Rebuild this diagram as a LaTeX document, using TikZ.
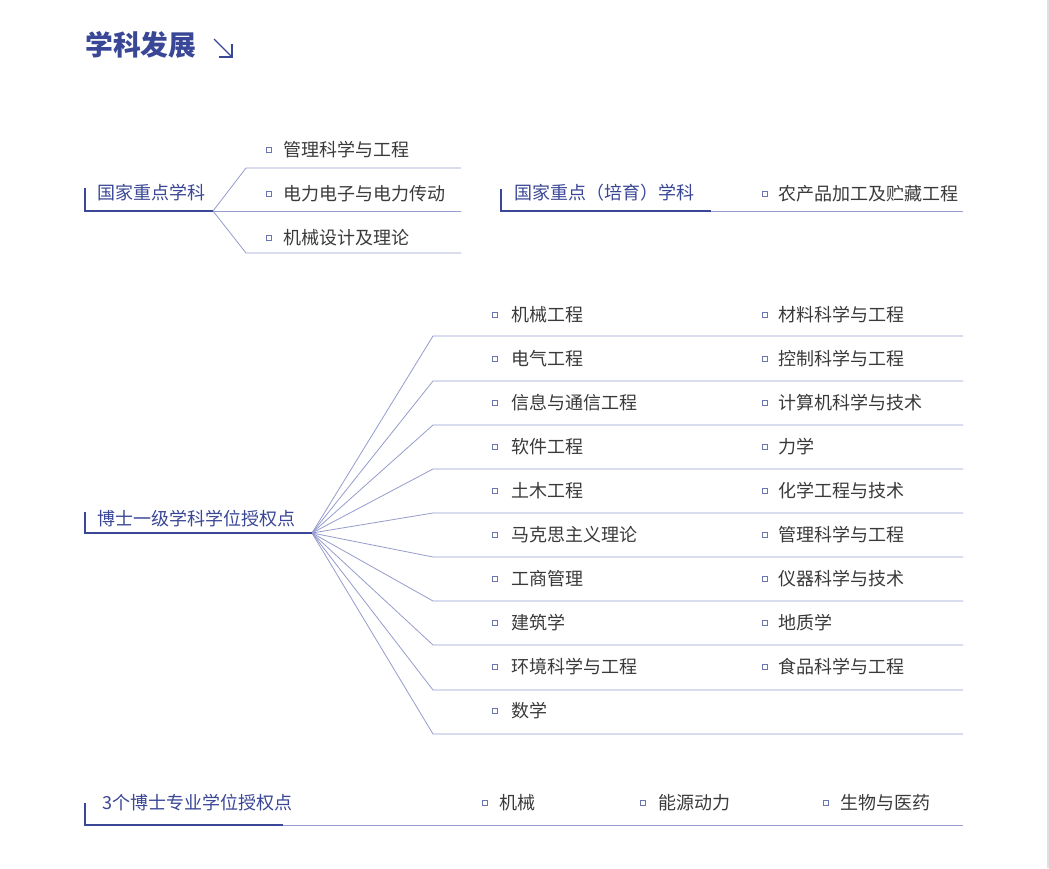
\documentclass[tikz,border=0pt]{standalone}
\usepackage{fontspec}
\newfontfamily\cjk{Noto Sans CJK SC}
\usetikzlibrary{positioning}
\definecolor{deepblue}{HTML}{3A4796}
\definecolor{paleblue}{HTML}{969CCD}
\definecolor{itemgray}{HTML}{3A3A3A}
\tikzset{
  title-t/.style={font=\cjk\bfseries\fontsize{27.8}{30}\selectfont,text=deepblue,anchor=west,inner sep=0pt},
  head-t/.style={font=\cjk\fontsize{18}{20}\selectfont,text=deepblue,anchor=west,inner sep=0pt},
  item-t/.style={font=\cjk\fontsize{18}{20}\selectfont,text=itemgray,anchor=west,inner sep=0pt},
  dot/.style={draw=deepblue!75,fill=white,rectangle,minimum size=5pt,inner sep=0pt,line width=0.7pt},
  rule-k/.style={draw=deepblue,line width=2pt},
  rule-l/.style={draw=paleblue,line width=0.8pt},
}

\begin{document}
\begin{tikzpicture}[x=1pt,y=-1pt]

  \useasboundingbox[fill=white] (0,0) rectangle (1049,868);
  \draw[black!12,line width=1.2pt] (1048,0) -- (1048,868);

  % TITLE
  \node[title-t] (title) at (85,45) {学科发展};
  \draw[deepblue,line width=1.3pt] (214,39) -- (232,57);
  \draw[deepblue,line width=1.3pt] (232,44) -- (232,57) -- (219,57);

  % BLOCK 1
  \node[head-t] (g1) at (97,193) {国家重点学科};
  \coordinate (g1top) at (85,188);
  \coordinate (g1k)   at (85,211);
  \coordinate (hub1)  at (213,211);
  \coordinate (b1a)   at (246,168);
  \coordinate (b1ae)  at (461,168);
  \coordinate (b1be)  at (461,211);
  \coordinate (b1c)   at (246,253);
  \coordinate (b1ce)  at (461,253);
  \draw[rule-l] (hub1) -- (b1a) -- (b1ae);
  \draw[rule-l] (hub1) -- (b1be);
  \draw[rule-l] (hub1) -- (b1c) -- (b1ce);
  \draw[rule-k] (g1top) -- (g1k) -- (hub1);
  \node[dot]    (d11) at (269,150) {};
  \node[item-t] (i11) at (283,150) {管理科学与工程};
  \node[dot]    (d12) at (269,194) {};
  \node[item-t] (i12) at (283,194) {电力电子与电力传动};
  \node[dot]    (d13) at (269,238) {};
  \node[item-t] (i13) at (283,238) {机械设计及理论};

  % BLOCK 2
  \node[head-t] (g2) at (514,193) {国家重点（培育）学科};
  \coordinate (g2top) at (501,189);
  \coordinate (g2k)   at (501,211);
  \coordinate (g2m)   at (711,211);
  \coordinate (g2e)   at (963,211);
  \draw[rule-l] (g2m) -- (g2e);
  \draw[rule-k] (g2top) -- (g2k) -- (g2m);
  \node[dot]    (d21) at (765,194) {};
  \node[item-t] (i21) at (778,194) {农产品加工及贮藏工程};

  % BLOCK 3
  \node[head-t] (g3) at (97,519) {博士一级学科学位授权点};
  \coordinate (g3top) at (85,512);
  \coordinate (g3k)   at (85,533);
  \coordinate (hub3)  at (312,533);
  \coordinate (r1)  at (433,336);  \coordinate (r1e)  at (963,336);
  \coordinate (r2)  at (433,381);  \coordinate (r2e)  at (963,381);
  \coordinate (r3)  at (433,425);  \coordinate (r3e)  at (963,425);
  \coordinate (r4)  at (433,469);  \coordinate (r4e)  at (963,469);
  \coordinate (r5)  at (433,513);  \coordinate (r5e)  at (963,513);
  \coordinate (r6)  at (433,557);  \coordinate (r6e)  at (963,557);
  \coordinate (r7)  at (433,601);  \coordinate (r7e)  at (963,601);
  \coordinate (r8)  at (433,645);  \coordinate (r8e)  at (963,645);
  \coordinate (r9)  at (433,690);  \coordinate (r9e)  at (963,690);
  \coordinate (r10) at (433,734);  \coordinate (r10e) at (963,734);
  \draw[rule-l] (hub3) -- (r1) -- (r1e);
  \draw[rule-l] (hub3) -- (r2) -- (r2e);
  \draw[rule-l] (hub3) -- (r3) -- (r3e);
  \draw[rule-l] (hub3) -- (r4) -- (r4e);
  \draw[rule-l] (hub3) -- (r5) -- (r5e);
  \draw[rule-l] (hub3) -- (r6) -- (r6e);
  \draw[rule-l] (hub3) -- (r7) -- (r7e);
  \draw[rule-l] (hub3) -- (r8) -- (r8e);
  \draw[rule-l] (hub3) -- (r9) -- (r9e);
  \draw[rule-l] (hub3) -- (r10) -- (r10e);
  \draw[rule-k] (g3top) -- (g3k) -- (hub3);

  \node[dot]    (dl1)  at (495,315) {};
  \node[item-t] (il1)  at (511,315) {机械工程};
  \node[dot]    (dl2)  at (495,359) {};
  \node[item-t] (il2)  at (511,359) {电气工程};
  \node[dot]    (dl3)  at (495,403) {};
  \node[item-t] (il3)  at (511,403) {信息与通信工程};
  \node[dot]    (dl4)  at (495,447) {};
  \node[item-t] (il4)  at (511,447) {软件工程};
  \node[dot]    (dl5)  at (495,491) {};
  \node[item-t] (il5)  at (511,491) {土木工程};
  \node[dot]    (dl6)  at (495,535) {};
  \node[item-t] (il6)  at (511,535) {马克思主义理论};
  \node[dot]    (dl7)  at (495,579) {};
  \node[item-t] (il7)  at (511,579) {工商管理};
  \node[dot]    (dl8)  at (495,623) {};
  \node[item-t] (il8)  at (511,623) {建筑学};
  \node[dot]    (dl9)  at (495,667) {};
  \node[item-t] (il9)  at (511,667) {环境科学与工程};
  \node[dot]    (dl10) at (495,711) {};
  \node[item-t] (il10) at (511,711) {数学};

  \node[dot]    (dr1)  at (765,315) {};
  \node[item-t] (ir1)  at (778,315) {材料科学与工程};
  \node[dot]    (dr2)  at (765,359) {};
  \node[item-t] (ir2)  at (778,359) {控制科学与工程};
  \node[dot]    (dr3)  at (765,403) {};
  \node[item-t] (ir3)  at (778,403) {计算机科学与技术};
  \node[dot]    (dr4)  at (765,447) {};
  \node[item-t] (ir4)  at (778,447) {力学};
  \node[dot]    (dr5)  at (765,491) {};
  \node[item-t] (ir5)  at (778,491) {化学工程与技术};
  \node[dot]    (dr6)  at (765,535) {};
  \node[item-t] (ir6)  at (778,535) {管理科学与工程};
  \node[dot]    (dr7)  at (765,579) {};
  \node[item-t] (ir7)  at (778,579) {仪器科学与技术};
  \node[dot]    (dr8)  at (765,623) {};
  \node[item-t] (ir8)  at (778,623) {地质学};
  \node[dot]    (dr9)  at (765,667) {};
  \node[item-t] (ir9)  at (778,667) {食品科学与工程};

  % BLOCK 4
  \node[head-t] (g4) at (102,803) {3个博士专业学位授权点};
  \coordinate (g4top) at (85,803);
  \coordinate (g4k)   at (85,825);
  \coordinate (g4m)   at (283,825);
  \coordinate (g4e)   at (963,825);
  \draw[rule-l] (g4m) -- (g4e);
  \draw[rule-k] (g4top) -- (g4k) -- (g4m);
  \node[dot]    (d41) at (485,803) {};
  \node[item-t] (i41) at (499,803) {机械};
  \node[dot]    (d42) at (643,803) {};
  \node[item-t] (i42) at (658,803) {能源动力};
  \node[dot]    (d43) at (826,803) {};
  \node[item-t] (i43) at (840,803) {生物与医药};

\end{tikzpicture}
\end{document}
